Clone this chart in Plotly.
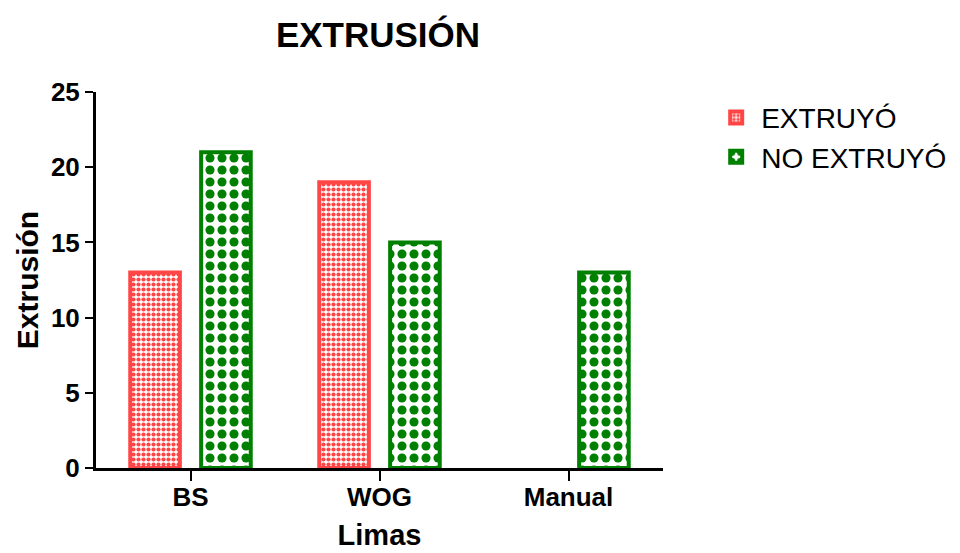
import plotly.graph_objects as go

categories = ["BS", "WOG", "Manual"]
extruyo = [13, 19, None]
no_extruyo = [21, 15, 13]
y_ticks = [0, 5, 10, 15, 20, 25]

RED = "#FF4545"
GREEN = "#008000"
FONT = "Arial, Liberation Sans, sans-serif"

fig = go.Figure()
fig.add_trace(go.Bar(
    x=categories, y=extruyo, name="EXTRUYÓ",
    marker=dict(color="white", line=dict(color=RED, width=4),
                pattern=dict(shape=".", fgcolor=RED, bgcolor="white",
                             size=5, solidity=0.55, fillmode="replace")),
))
fig.add_trace(go.Bar(
    x=categories, y=no_extruyo, name="NO EXTRUYÓ",
    marker=dict(color="white", line=dict(color=GREEN, width=4),
                pattern=dict(shape=".", fgcolor=GREEN, bgcolor="white",
                             size=12, solidity=0.45, fillmode="replace")),
))

fig.update_layout(
    width=960, height=553,
    paper_bgcolor="white", plot_bgcolor="white",
    barmode="group", bargap=0.25, bargroupgap=0.3,
    margin=dict(l=88, r=305, t=84, b=93, autoexpand=False),
    font=dict(family=FONT, color="black"),
    title=dict(text="<b>EXTRUSIÓN</b>", x=370 / 960, xanchor="center",
               y=1 - 27 / 553, yanchor="middle", font=dict(size=35)),
    legend=dict(x=1.085, y=0.998, xanchor="left", yanchor="top",
                font=dict(size=28), itemwidth=40),
    xaxis=dict(
        showline=True, linecolor="black", linewidth=3,
        ticks="outside", ticklen=10, tickwidth=2, tickcolor="black",
        tickfont=dict(size=26, family=FONT, weight="bold"),
        ticklabelstandoff=-6,
        title=dict(text="<b>Limas</b>", font=dict(size=29), standoff=14),
        range=[-0.5, 2.5], showgrid=False, zeroline=False, automargin=False,
    ),
    yaxis=dict(
        showline=True, linecolor="black", linewidth=3,
        ticks="outside", ticklen=8, tickwidth=2, tickcolor="black",
        tickvals=y_ticks, range=[0, 25],
        tickfont=dict(size=26, family=FONT, weight="bold"),
        title=dict(text="<b>Extrusión</b>", font=dict(size=30), standoff=4),
        showgrid=False, zeroline=False, automargin=False,
    ),
)

fig.write_html("out.html")
